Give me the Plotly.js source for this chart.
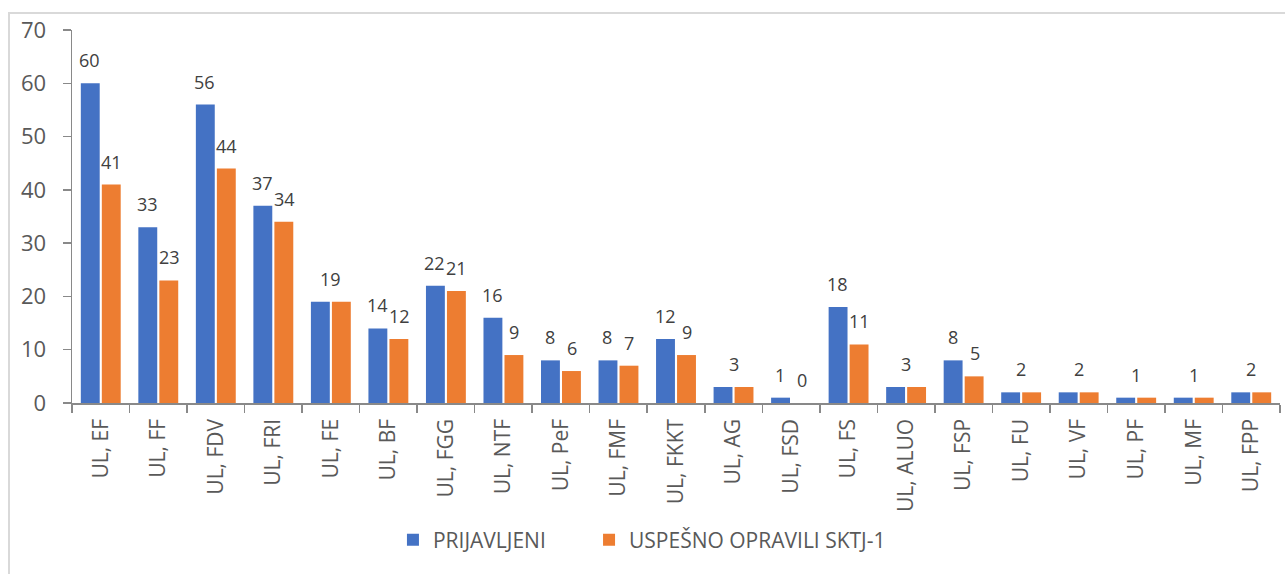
<!DOCTYPE html>
<html>
<head>
<meta charset="utf-8">
<script src="https://cdn.plot.ly/plotly-3.0.1.min.js"></script>
<style>
  html, body { margin: 0; padding: 0; background: #ffffff; }
  #wrap { position: relative; width: 1285px; height: 574px; overflow: hidden; }
  #chart { position: absolute; left: 0; top: 0; width: 1285px; height: 574px; }
  #frame { position: absolute; left: 8px; top: 12px; width: 1290px; height: 600px;
           border-top: 2px solid #d9d9d9; border-left: 2px solid #d9d9d9; pointer-events: none; }
</style>
</head>
<body>
<div id="wrap">
  <div id="chart"></div>
  <div id="frame"></div>
</div>
<script>
const categories = ["UL, EF", "UL, FF", "UL, FDV", "UL, FRI", "UL, FE", "UL, BF", "UL, FGG",
  "UL, NTF", "UL, PeF", "UL, FMF", "UL, FKKT", "UL, AG", "UL, FSD", "UL, FS", "UL, ALUO",
  "UL, FSP", "UL, FU", "UL, VF", "UL, PF", "UL, MF", "UL, FPP"];
const prijavljeni = [60, 33, 56, 37, 19, 14, 22, 16, 8, 8, 12, 3, 1, 18, 3, 8, 2, 2, 1, 1, 2];
const uspesno = [41, 23, 44, 34, 19, 12, 21, 9, 6, 7, 9, 3, 0, 11, 3, 5, 2, 2, 1, 1, 2];
const seriesNames = ["PRIJAVLJENI", "USPEŠNO OPRAVILI SKTJ-1"];
const yTicks = [0, 10, 20, 30, 40, 50, 60, 70];

const FONT = "Open Sans, Noto Sans, DejaVu Sans, sans-serif";
const blue = "#4472C4";
const orange = "#ED7D31";

const traces = [
  { type: "bar", name: seriesNames[0], x: categories, y: prijavljeni,
    marker: { color: blue }, hoverinfo: "x+y", legend: "legend" },
  { type: "bar", name: seriesNames[1], x: categories, y: uspesno,
    marker: { color: orange }, hoverinfo: "x+y", legend: "legend2" }
];

const annotations = [];
const labFont = { family: FONT, size: 18, color: "#404040" };
categories.forEach((c, i) => {
  if (prijavljeni[i] === uspesno[i]) {
    annotations.push({ x: c, y: prijavljeni[i], text: String(prijavljeni[i]), showarrow: false,
      xanchor: "center", yanchor: "middle", xshift: 0, yshift: 23, font: labFont });
  } else {
    annotations.push({ x: c, y: prijavljeni[i], text: String(prijavljeni[i]), showarrow: false,
      xanchor: "center", yanchor: "middle", xshift: -11, yshift: 23, font: labFont });
    annotations.push({ x: c, y: uspesno[i], text: String(uspesno[i]), showarrow: false,
      xanchor: "center", yanchor: "middle", xshift: 11, yshift: 23, font: labFont });
  }
});

const legFont = { family: FONT, size: 21, color: "#595959" };
const layout = {
  width: 1285, height: 574,
  margin: { l: 72, r: 5, t: 30, b: 171, pad: 0 },
  paper_bgcolor: "#ffffff", plot_bgcolor: "#ffffff",
  barmode: "group", bargap: 0.27, bargroupgap: 0.1,
  font: { family: FONT, color: "#595959" },
  showlegend: true,
  legend: { orientation: "h", xref: "container", yref: "container", x: 0.3058, xanchor: "left",
    y: 0.059, yanchor: "middle", font: legFont, itemclick: false, itemdoubleclick: false },
  legend2: { orientation: "h", xref: "container", yref: "container", x: 0.4584, xanchor: "left",
    y: 0.059, yanchor: "middle", font: legFont, itemclick: false, itemdoubleclick: false },
  xaxis: {
    type: "category", showline: true, linecolor: "#898989", linewidth: 1.5,
    ticks: "outside", tickson: "boundaries", ticklen: 8, tickcolor: "#898989", tickwidth: 1.5,
    tickangle: -90, tickfont: { family: FONT, size: 21, color: "#595959" },
    showgrid: false, zeroline: false, fixedrange: true, ticklabelstandoff: 6
  },
  yaxis: {
    range: [0, 70], tickvals: yTicks, ticktext: yTicks.map(String),
    showline: true, linecolor: "#898989", linewidth: 1.5,
    ticks: "outside", ticklen: 8, tickcolor: "#898989", tickwidth: 1.5,
    tickfont: { family: FONT, size: 22, color: "#595959" },
    showgrid: false, zeroline: false, fixedrange: true, ticklabelstandoff: 12
  },
  annotations: annotations
};

Plotly.newPlot("chart", traces, layout, { displayModeBar: false, staticPlot: true });
</script>
</body>
</html>
